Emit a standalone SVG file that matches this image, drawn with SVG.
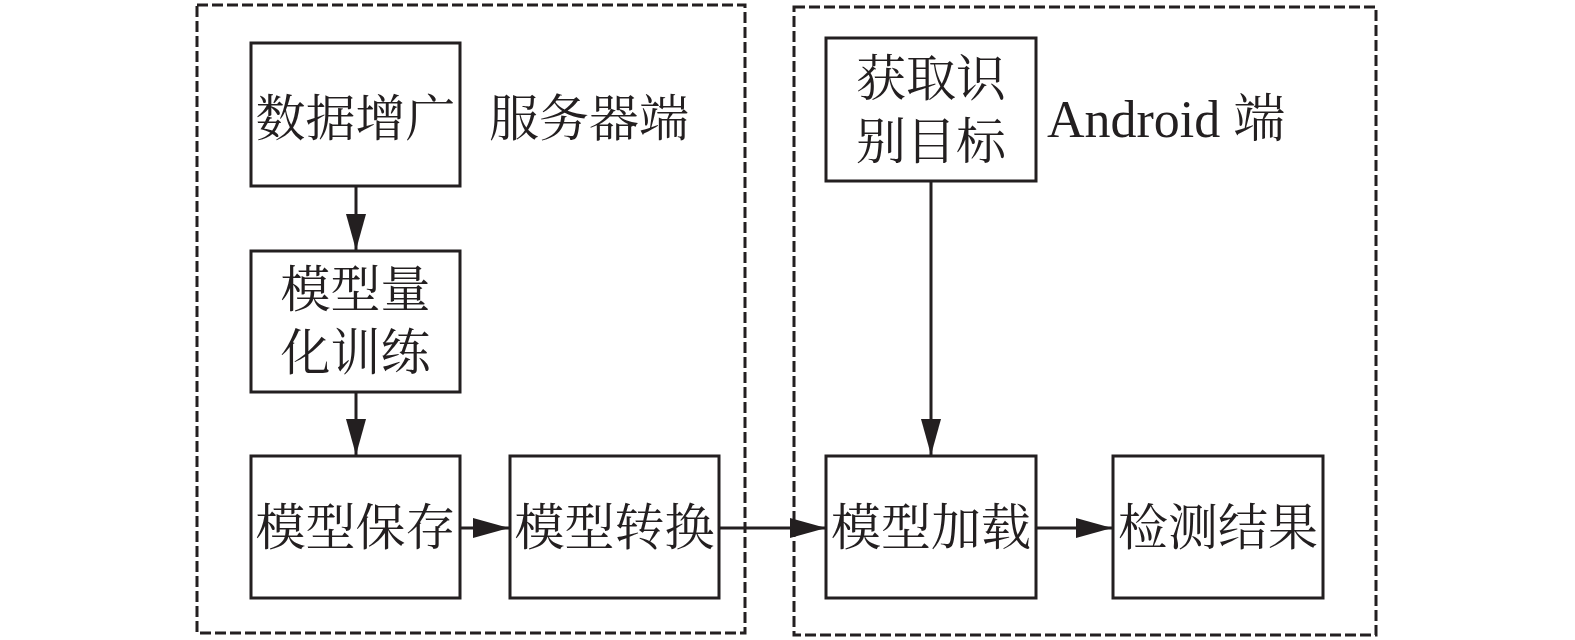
<svg xmlns="http://www.w3.org/2000/svg" width="1575" height="640" viewBox="0 0 1575 640">
<style>
.box{fill:#fff;stroke:#231f20;stroke-width:3}
.dash{fill:none;stroke:#231f20;stroke-width:3;stroke-dasharray:11 4}
.t{font-family:"Liberation Serif","Noto Serif CJK SC","Noto Sans CJK SC",serif;font-size:50px;fill:#231f20}
.c{text-anchor:middle}
.ln{stroke:#231f20;stroke-width:3;fill:none;marker-end:url(#ah)}
</style>
<defs>
<marker id="ah" markerUnits="userSpaceOnUse" markerWidth="36" markerHeight="20" refX="36" refY="10" orient="auto">
<path d="M0,0 L36,10 L0,20 z" fill="#231f20"/>
</marker>
</defs>
<rect width="1575" height="640" fill="#fff"/>
<g id="server-group">
<rect class="dash" x="197" y="5" width="548" height="628"/>
<text class="t" x="489" y="136">服务器端</text>
</g>
<g id="android-group">
<rect class="dash" x="794" y="7" width="582" height="628"/>
<text class="t" x="1047" y="137" style="font-size:52px">Android 端</text>
</g>
<g id="connectors">
<line class="ln" x1="356" y1="187" x2="356" y2="250"/>
<line class="ln" x1="356" y1="393" x2="356" y2="455"/>
<line class="ln" x1="461" y1="528" x2="509" y2="528"/>
<line class="ln" x1="719" y1="528" x2="826" y2="528"/>
<line class="ln" x1="931" y1="182" x2="931" y2="455"/>
<line class="ln" x1="1036" y1="528" x2="1112" y2="528"/>
</g>
<g id="n-augment">
<rect class="box" x="251" y="43" width="209" height="143"/>
<text class="t c" x="355.5" y="136">数据增广</text>
</g>
<g id="n-quant">
<rect class="box" x="251" y="251" width="209" height="141"/>
<text class="t c" x="355.5" y="307">模型量</text>
<text class="t c" x="355.5" y="370">化训练</text>
</g>
<g id="n-save">
<rect class="box" x="251" y="456" width="209" height="142"/>
<text class="t c" x="355.5" y="545">模型保存</text>
</g>
<g id="n-convert">
<rect class="box" x="510" y="456" width="209" height="142"/>
<text class="t c" x="614.5" y="545">模型转换</text>
</g>
<g id="n-target">
<rect class="box" x="826" y="38" width="210" height="143"/>
<text class="t c" x="931" y="96">获取识</text>
<text class="t c" x="931" y="159">别目标</text>
</g>
<g id="n-load">
<rect class="box" x="826" y="456" width="210" height="142"/>
<text class="t c" x="931" y="545">模型加载</text>
</g>
<g id="n-result">
<rect class="box" x="1113" y="456" width="210" height="142"/>
<text class="t c" x="1218" y="545">检测结果</text>
</g>
</svg>
